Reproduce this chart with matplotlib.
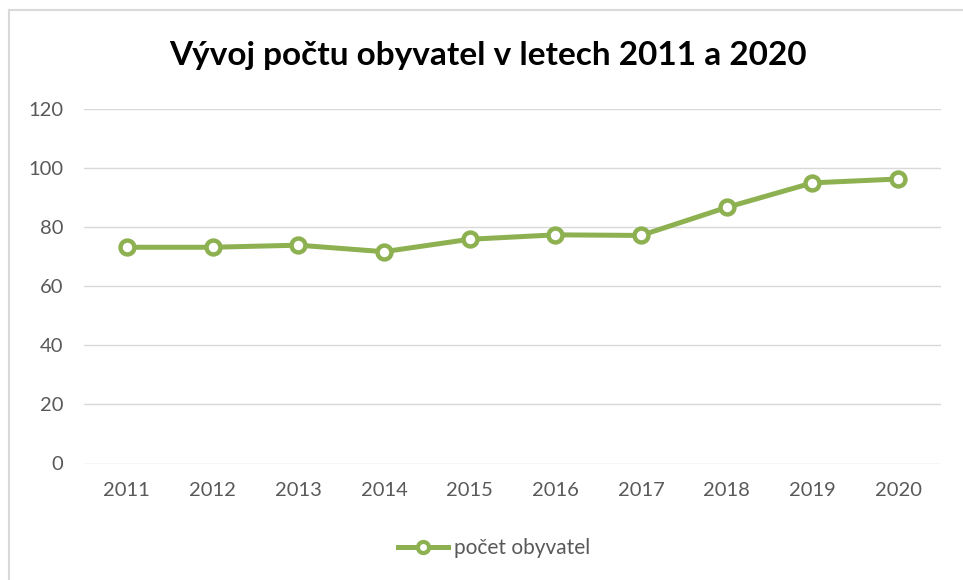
import matplotlib.pyplot as plt
from matplotlib.lines import Line2D

# values
years = ['2011', '2012', '2013', '2014', '2015', '2016', '2017', '2018', '2019', '2020']
obyvatel = [73.2, 73.2, 73.9, 71.7, 75.9, 77.4, 77.2, 86.7, 95.0, 96.3]
y_ticks = [0, 20, 40, 60, 80, 100, 120]

green = '#8db151'
grey_text = '#595959'

plt.rcParams['font.family'] = ['Lato', 'DejaVu Sans']

fig = plt.figure(figsize=(9.63, 5.8), dpi=100, facecolor='white')
ax = fig.add_axes([84 / 963, 1 - 463.5 / 580, (941 - 84) / 963, (463.5 - 109) / 580])

x = list(range(len(years)))
ax.plot(x, obyvatel, color=green, linewidth=3.6, marker='o', markersize=10,
        markerfacecolor='white', markeredgecolor=green, markeredgewidth=3.2,
        label='počet obyvatel', solid_joinstyle='round', zorder=3)

ax.set_xlim(-0.5, len(years) - 0.5)
ax.set_ylim(0, 120)
ax.set_yticks(y_ticks)
ax.set_xticks(x)
ax.set_xticklabels(years)
ax.grid(axis='y', color='#d9d9d9', linewidth=1)
ax.set_axisbelow(True)
for s in ax.spines.values():
    s.set_visible(False)
ax.tick_params(length=0, labelsize=14.5, colors=grey_text)
ax.tick_params(axis='y', pad=15)
ax.tick_params(axis='x', pad=13)

fig.text(488 / 963, 1 - 55 / 580, 'Vývoj počtu obyvatel v letech 2011 a 2020',
         ha='center', va='center', fontsize=24, fontweight='bold', color='black')

leg = fig.legend(handles=[Line2D([0], [0], color=green, linewidth=3.6, marker='o', markersize=8,
                                 markerfacecolor='white', markeredgecolor=green,
                                 markeredgewidth=3)],
                 labels=['počet obyvatel'], loc='center', bbox_to_anchor=(494 / 963, 1 - 548 / 580),
                 frameon=False, fontsize=15, handlelength=2.4, handletextpad=0.3)
for t in leg.get_texts():
    t.set_color(grey_text)

# light border of the chart area (top and left edges visible)
fig.add_artist(Line2D([9 / 963, 1], [1 - 10 / 580, 1 - 10 / 580], color='#d9d9d9', linewidth=1.5))
fig.add_artist(Line2D([9 / 963, 9 / 963], [0, 1 - 10 / 580], color='#d9d9d9', linewidth=1.5))

fig.savefig('out.png', dpi=100, facecolor='white')
